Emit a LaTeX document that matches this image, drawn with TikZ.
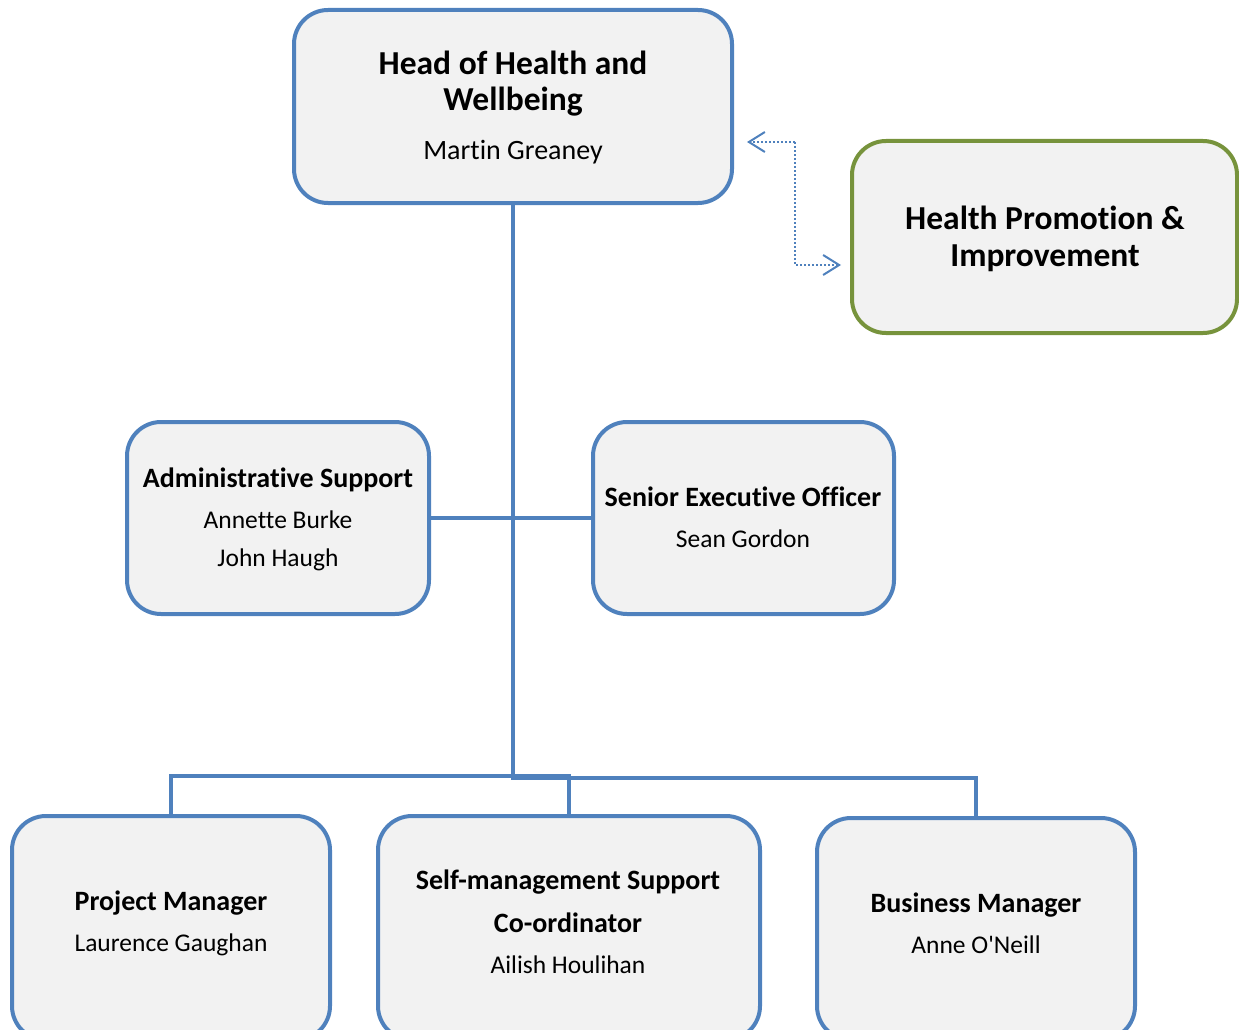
\documentclass[tikz,border=0pt]{standalone}
\usepackage{fontspec}
\setmainfont{Carlito}[Ligatures={NoCommon}]
\usetikzlibrary{arrows.meta}
\definecolor{lblue}{HTML}{4F81BD}
\definecolor{lgreen}{HTML}{77933C}
\definecolor{lfill}{HTML}{F2F2F2}
\tikzset{
  box/.style={draw=lblue, line width=4pt, fill=lfill, rounded corners=34pt},
  gbox/.style={draw=lgreen, line width=4pt, fill=lfill, rounded corners=34pt},
  conn/.style={draw=lblue, line width=4pt},
  dotconn/.style={draw=lblue, line width=2pt, dash pattern=on 2pt off 2pt, -{Straight Barb[length=16pt,width=20pt,line width=2pt]}},
  ttl/.style={font=\fontsize{28}{32}\selectfont\bfseries, anchor=base},
  bigttl/.style={font=\fontsize{33.5}{38}\selectfont\bfseries, anchor=base},
  nm/.style={font=\fontsize{25.5}{30}\selectfont, anchor=base},
  bignm/.style={font=\fontsize{28}{32}\selectfont, anchor=base},
}
\begin{document}
\begin{tikzpicture}[x=1pt,y=-1pt]
\useasboundingbox (0,0) rectangle (1239,1030);
% boxes
\draw[box] (294,10) rectangle (732,203);
\draw[gbox] (852,141) rectangle (1237,333);
\draw[box] (127,422) rectangle (429,614);
\draw[box] (593,422) rectangle (894,614);
\draw[box] (12,816) rectangle (330,1040);
\draw[box] (378,816) rectangle (760,1040);
\draw[box] (817,818) rectangle (1135,1040);
% named anchors
\coordinate (headB) at (513,203);
\coordinate (adminR) at (429,518);
\coordinate (seoL) at (593,518);
\coordinate (busJ) at (513,776);
\coordinate (pmT) at (171,816);
\coordinate (smT) at (569,816);
\coordinate (bmT) at (976,818);
\coordinate (headR) at (747,142);
\coordinate (hpiL) at (841,265);
% connectors
\draw[conn] (headB) -- (busJ);
\draw[conn] (adminR) -- (seoL);
\draw[conn] (pmT) |- (569,776) -- (smT);
\draw[conn] (busJ) -- (513,778) -| (bmT);
\draw[dotconn] (795,142) -- (headR);
\draw[dotconn] (795,142) |- (hpiL);
% texts
\node[bigttl] (h1) at (513,75) {Head of Health and};
\node[bigttl] (h2) at (513,111) {Wellbeing};
\node[bignm] (h3) at (513,159) {Martin Greaney};
\node[bigttl] (p1) at (1045,229) {Health Promotion \&};
\node[bigttl] (p2) at (1045,266) {Improvement};
\node[ttl] (a1) at (278,487) {Administrative Support};
\node[nm] (a2) at (278,528) {Annette Burke};
\node[nm] (a3) at (278,566) {John Haugh};
\node[ttl] (s1) at (743,506) {Senior Executive Officer};
\node[nm] (s2) at (743,547) {Sean Gordon};
\node[ttl] (m1) at (171,910) {Project Manager};
\node[nm] (m2) at (171,951) {Laurence Gaughan};
\node[ttl] (c1) at (568,889) {Self-management Support};
\node[ttl] (c2) at (568,932) {Co-ordinator};
\node[nm] (c3) at (568,973) {Ailish Houlihan};
\node[ttl] (b1) at (976,912) {Business Manager};
\node[nm] (b2) at (976,953) {Anne O\textquotesingle Neill};
\end{tikzpicture}
\end{document}
